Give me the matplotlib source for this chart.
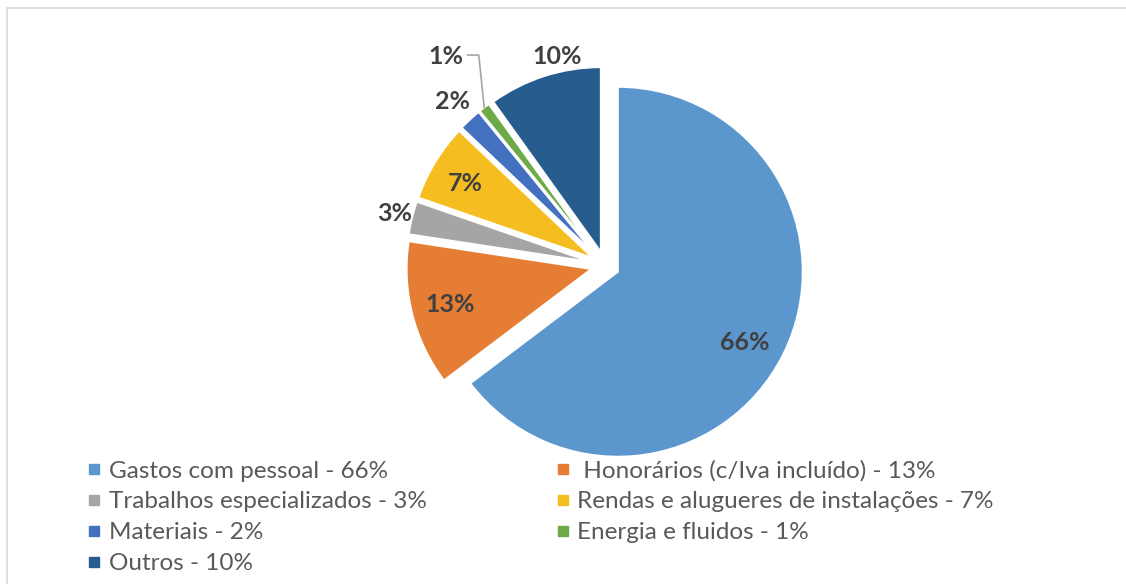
import numpy as np
import matplotlib.pyplot as plt
from matplotlib.lines import Line2D
from matplotlib.patches import Rectangle

# slice shares and the printed percentages
categories = ['Gastos com pessoal', ' Honorários (c/Iva incluído)', 'Trabalhos especializados',
              'Rendas e alugueres de instalações', 'Materiais', 'Energia e fluidos', 'Outros']
shares = [64.7, 12.7, 2.9, 6.8, 2.0, 1.0, 9.9]
shown_pct = [66, 13, 3, 7, 2, 1, 10]
colors = ['#5B96CD', '#E67D35', '#A5A5A5', '#F5BD1F', '#4371C0', '#6EAA48', '#265D8E']

plt.rcParams['font.family'] = ['Lato', 'DejaVu Sans']

W, H = 1126, 584
fig = plt.figure(figsize=(W / 100, H / 100), dpi=100)

# light frame of the chart area
fig.patches.append(Rectangle((7.5 / W, -0.1), 1.2, (H - 7.5) / H + 0.1, transform=fig.transFigure,
                             fill=False, edgecolor='#D9D9D9', linewidth=1.2))

# pie axes, centre at (605, 265) px, radius 185 px
cx, cy, r_px, half = 605.2, 265.5, 185.0, 260.0
ax = fig.add_axes([(cx - half) / W, (H - cy - half) / H, 2 * half / W, 2 * half / H])
lim = half / r_px
ax.axis('off')

explode = 0.076
wedges, _ = ax.pie(shares, colors=colors, startangle=90, counterclock=False,
                   explode=[explode] * len(shares), radius=1.0,
                   wedgeprops=dict(edgecolor='white', linewidth=1.5))
ax.set_xlim(-lim, lim)
ax.set_ylim(-lim, lim)
ax.set_aspect('equal')

# data labels: distance from pie centre and small angle tweaks
label_dist = [0.865, 0.865, 1.17, 0.875, 1.21, 1.42, 1.16]
angle_tweak = [-2.5, 0, 0, 1, 0, 0, -4.8]
for i, w in enumerate(wedges):
    mid = 0.5 * (w.theta1 + w.theta2)
    a = np.deg2rad(mid + angle_tweak[i])
    x, y = label_dist[i] * np.cos(a), label_dist[i] * np.sin(a)
    ax.text(x, y, f'{shown_pct[i]}%', ha='center', va='center', fontsize=18,
            fontweight='bold', color='#404040', clip_on=False)
    if i == 5:
        # leader line for the tiny slice
        am = np.deg2rad(mid)
        ex, ey = (1 + explode) * np.cos(am), (1 + explode) * np.sin(am)
        ax.plot([x + 0.12, x + 0.18, ex], [y + 0.01, y + 0.01, ey], color='#A5A5A5',
                linewidth=1.2, clip_on=False)

# legend, row-major order like the original
handles = [Line2D([], [], marker='s', linestyle='none', markersize=7.2,
                  markerfacecolor=c, markeredgecolor=c) for c in colors]
labels = [f'{c} - {p}%' for c, p in zip(categories, shown_pct)]
order = [0, 2, 4, 6, 1, 3, 5]
fig.legend([handles[i] for i in order], [labels[i] for i in order], ncol=2,
           loc='upper left', bbox_to_anchor=(88 / W, 1 - 460 / H), frameon=False,
           fontsize=17.5, labelcolor='#595959', handlelength=0.5, handletextpad=0.35,
           labelspacing=0.41, columnspacing=5.35, borderaxespad=0, borderpad=0)

fig.savefig('out.png', dpi=100)
